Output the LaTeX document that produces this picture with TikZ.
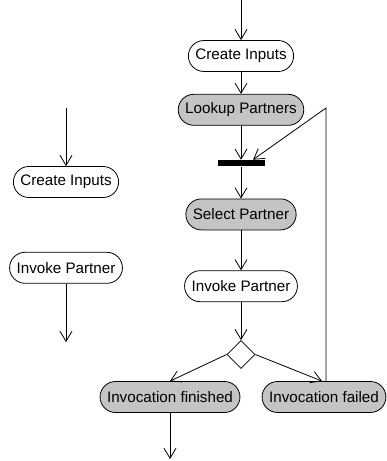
\documentclass[tikz,border=0pt]{standalone}
\usepackage{fontspec}
\setmainfont{Liberation Sans}
\usetikzlibrary{arrows.meta, positioning, shapes.geometric}
\definecolor{actgray}{RGB}{196,196,196}

\begin{document}
\begin{tikzpicture}[x=1pt, y=-1pt, line width=0.8pt, font=\fontsize{15.2}{18}\selectfont,
	>={Straight Barb[length=10pt, width=12pt]}]
\tikzset{act/.style={rectangle, draw, rounded corners=15.5pt, minimum height=31pt, inner xsep=7pt, inner ysep=0pt},
		sub/.style={act, fill=actgray},
		sync/.style={rectangle, fill=black, minimum width=47pt, minimum height=6pt, inner sep=0pt},
		choice/.style={diamond, draw, minimum width=28pt, minimum height=28pt, inner sep=0pt}}
\useasboundingbox (0,0) rectangle (386,461);
% left flow
\coordinate (Lstart) at (66,108);
\node[act] (LCI) at (66,182) {Create Inputs};
\node[act, below=54pt of LCI] (LIP) {Invoke Partner};
\coordinate (Lend) at (66,342);
\draw[->] (Lstart) -- (LCI);
\draw[->] (LIP) -- (Lend);
% right flow
\coordinate (Rstart) at (241,0);
\node[act] (CI) at (241,56) {Create Inputs};
\node[sub, below=22pt of CI] (LP) {Lookup Partners};
\node[sync, below=34pt of LP] (Bar) {};
\node[sub, below=32pt of Bar] (SP) {Select Partner};
\node[act, below=40pt of SP] (IP) {Invoke Partner};
\node[choice, below=38pt of IP] (Dec) {};
\node[sub] (Fin) at (170,397) {Invocation finished};
\node[sub] (Fail) at (324,397) {Invocation failed};
\coordinate (Turn) at (326,108);
\coordinate (Rend) at (170,459);
\draw[->] (Rstart) -- (CI);
\draw[->] (CI) -- (LP);
\draw[->] (LP) -- (Bar);
\draw[->] (Bar) -- (SP);
\draw[->] (SP) -- (IP);
\draw[->] (IP) -- (Dec);
\draw[->] (Dec.west) -- (Fin.north);
\draw[->] (Dec.east) -- ([xshift=-2pt]Fail.north);
\draw[->] (Turn |- Fail.north) -- (Turn) -- ([xshift=12pt]Bar.north);
\draw[->] (Fin) -- (Rend);
\end{tikzpicture}
\end{document}
